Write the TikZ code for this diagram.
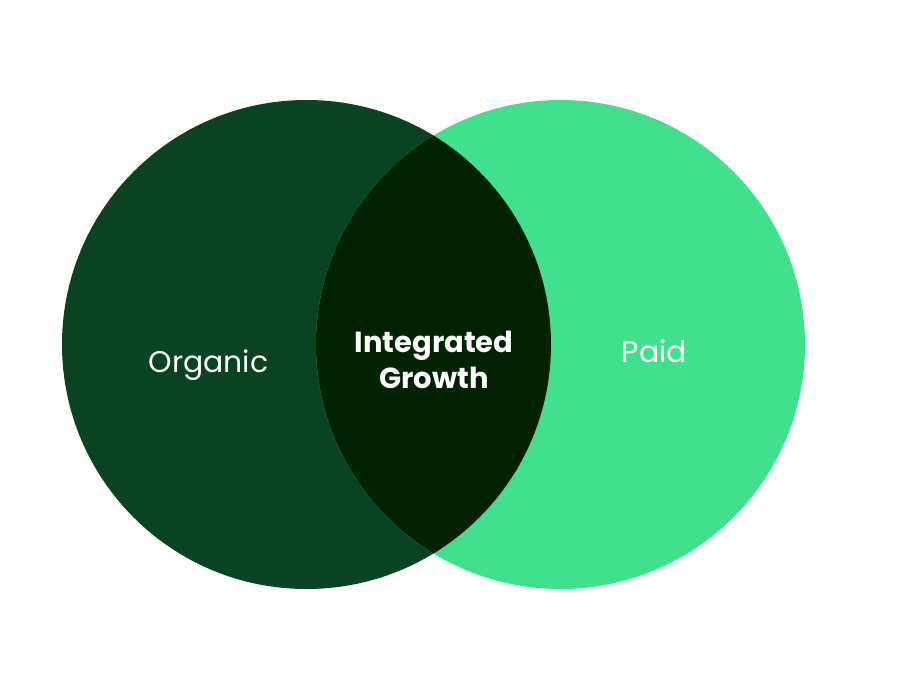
\documentclass[tikz,border=0pt]{standalone}
\usepackage{fontspec}
\setmainfont{Poppins}
\usepackage{xcolor}
\usepackage{tikz}
\usetikzlibrary{positioning}

\definecolor{organicgreen}{HTML}{0A4324}
\definecolor{paidgreen}{HTML}{41E08D}
\definecolor{overlapgreen}{HTML}{012200}

\tikzset{
  setlabel/.style={text=white, font=\fontsize{17}{20}\selectfont, anchor=base},
  overlaplabel/.style={text=white, font=\fontsize{16.5}{20}\selectfont\bfseries, align=center, anchor=base}
}

\begin{document}
\begin{tikzpicture}[x=0.02cm, y=-0.02cm]
  \useasboundingbox (0,0) rectangle (921,690);
  \fill[organicgreen] (306.5,344.5) circle (244.5);
  \fill[paidgreen] (560.5,344.5) circle (244.5);
  \begin{scope}
    \clip (306.5,344.5) circle (244.5);
    \fill[overlapgreen] (560.5,344.5) circle (244.5);
  \end{scope}
  \node[setlabel] (organic) at (208.5,372) {Organic};
  \node[setlabel] (paid) at (654.5,362) {Paid};
  \node[overlaplabel] (integrated) at (434,388) {Integrated\\Growth};
\end{tikzpicture}
\end{document}
